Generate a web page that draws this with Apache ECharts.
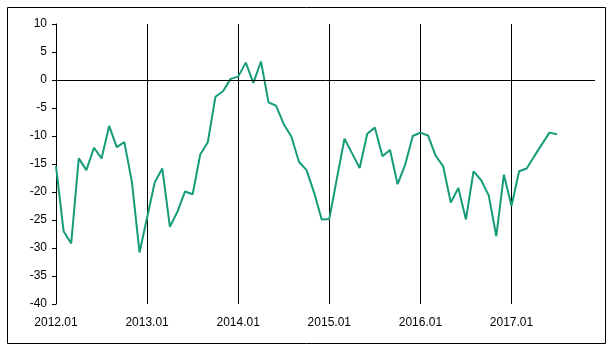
<!DOCTYPE html>
<html>
<head>
<meta charset="utf-8">
<script src="https://cdn.jsdelivr.net/npm/echarts@6/dist/echarts.min.js"></script>
<style>
  html, body { margin: 0; padding: 0; background: #fff; }
  #main { width: 612px; height: 352px; }
</style>
</head>
<body>
<div id="main"></div>
<script>
// months 2012.01 .. 2017.12
var months = [];
for (var y = 2012; y <= 2017; y++) {
  for (var m = 1; m <= 12; m++) {
    months.push(y + '.' + (m < 10 ? '0' + m : m));
  }
}

// values
var values2012 = [-15.4, -27.0, -29.2, -14.0, -16.1, -12.1, -14.0, -8.2, -12.0, -11.1, -18.2, -30.8];
var values2013 = [-24.6, -18.3, -15.8, -26.2, -23.5, -19.9, -20.4, -13.3, -11.1, -3.0, -2.0, 0.2];
var values2014 = [0.6, 3.1, -0.5, 3.3, -4.0, -4.6, -7.9, -10.1, -14.6, -16.1, -20.1, -24.9];
var values2015 = [-24.8, -17.6, -10.5, -13.1, -15.7, -9.6, -8.5, -13.6, -12.5, -18.6, -15.1, -10.0];
var values2016 = [-9.4, -9.9, -13.5, -15.4, -21.9, -19.3, -24.9, -16.3, -17.9, -20.6, -27.9, -16.9];
var values2017 = [-22.5, -16.3, -15.8, -13.6, -11.5, -9.4, -9.7];

var seriesValues = values2012.concat(values2013, values2014, values2015, values2016, values2017);

var textStyle = { fontFamily: 'Liberation Sans', fontSize: 12, color: '#000' };

var myChart = echarts.init(document.getElementById('main'));
myChart.setOption({
  backgroundColor: '#fff',
  animation: false,
  graphic: [{
    type: 'rect',
    shape: { x: 7.5, y: 7.5, width: 598, height: 336 },
    style: { fill: 'none', stroke: '#000', lineWidth: 1 },
    silent: true
  }],
  grid: { left: 56, right: 17, top: 24, bottom: 48 },
  xAxis: {
    type: 'category',
    data: months,
    boundaryGap: false,
    axisLine: { show: false },
    axisTick: { show: false },
    axisLabel: Object.assign({ interval: 11, margin: 13 }, textStyle),
    splitLine: { show: true, interval: 11, lineStyle: { color: '#000', width: 1 } }
  },
  yAxis: {
    type: 'value',
    min: -40,
    max: 10,
    interval: 5,
    axisLine: { show: true, lineStyle: { color: '#000', width: 1 } },
    axisTick: { show: true, length: 4, lineStyle: { color: '#000' } },
    axisLabel: Object.assign({ margin: 9 }, textStyle),
    splitLine: { show: false }
  },
  series: [{
    type: 'line',
    data: seriesValues,
    symbol: 'none',
    lineStyle: { color: '#169c78', width: 2 },
    itemStyle: { color: '#169c78' },
    markLine: {
      silent: true,
      symbol: 'none',
      label: { show: false },
      lineStyle: { color: '#000', width: 1, type: 'solid' },
      data: [{ yAxis: 0 }]
    }
  }]
});
</script>
</body>
</html>
